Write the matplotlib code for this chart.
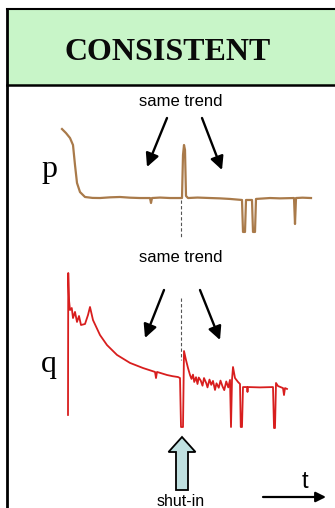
import matplotlib
matplotlib.use("Agg")
from matplotlib import pyplot as plt
from matplotlib.patches import Rectangle, FancyArrow

# pressure record (time in days, pressure in arbitrary units)
t_p = [0.8, 2.4, 4.0, 5.2, 6.0, 6.8, 8.0, 10.0, 13.0, 16.0, 20.0, 24.0, 28.0, 32.0,
       36.0, 36.4, 36.8, 40.0, 44.0, 48.8, 49.2, 49.6, 50.0, 50.4, 51.2, 55.0,
       60.0, 64.0, 68.0, 72.8, 73.2, 74.0, 74.4, 76.8, 77.2, 78.0, 78.4, 84.0,
       88.0, 93.6, 94.0, 94.4, 97.0, 100.4]
p = [96.5, 93.0, 88.7, 82.6, 65.2, 49.6, 41.7, 37.4, 36.6, 36.5, 37.1, 37.4, 36.8, 36.5,
     36.5, 32.2, 36.5, 36.9, 36.5, 36.5, 73.9, 82.6, 78.3, 38.3, 36.5, 36.9,
     36.5, 36.2, 35.7, 34.8, 7.0, 7.0, 34.8, 34.8, 7.0, 7.0, 35.7, 36.5,
     36.2, 36.5, 13.9, 36.5, 36.8, 36.5]

# rate record
t_q = [3.2, 3.3, 3.6, 4.0, 4.7, 5.2, 6.0, 6.8, 7.6, 8.4, 10.0, 11.2, 12.0, 13.2,
       16.0, 18.8, 22.8, 28.0, 33.2, 38.0, 38.4, 38.8, 42.8, 45.0, 47.2, 48.0,
       48.4, 49.2, 49.6, 50.4, 51.2, 52.0, 52.6, 53.2, 53.7, 54.4, 55.0, 55.5,
       56.3, 57.0, 57.6, 58.5, 59.0, 59.8, 60.5, 61.2, 62.0, 62.6, 63.5, 64.2,
       65.0, 65.7, 66.5, 67.3, 68.0, 68.4, 68.8, 69.2, 70.0, 71.2, 72.0, 72.3,
       72.8, 73.2, 74.8, 75.0, 75.2, 80.0, 85.2, 85.6, 86.0, 86.4, 87.2, 89.2,
       89.6, 90.0, 90.8]
q = [11.8, 95.3, 79.4, 73.5, 74.7, 68.8, 72.4, 66.5, 70.0, 64.7, 65.3, 70.6, 75.3, 67.6,
     58.8, 52.9, 47.1, 42.4, 39.4, 37.1, 33.5, 37.1, 35.3, 34.6, 34.1, 33.5,
     4.7, 4.7, 49.4, 44.1, 39.4, 35.3, 33.0, 35.5, 31.2, 34.0, 30.0, 33.8,
     32.0, 29.0, 33.5, 30.5, 28.0, 32.6, 29.5, 31.8, 26.5, 30.4, 27.8, 32.0,
     28.6, 26.4, 31.5, 28.0, 32.4, 4.7, 32.4, 40.0, 33.5, 31.2, 30.0, 4.7,
     4.7, 28.2, 28.2, 25.3, 28.2, 28.0, 28.2, 4.1, 4.1, 30.6, 28.8, 27.6,
     23.5, 27.6, 27.1]

shutin_t = 48.3
p_color = "#a97a4a"
q_color = "#d81e1e"

fig = plt.figure(figsize=(3.35, 5.08), dpi=100)

# overlay in pixel units for frame, labels and arrows
ax0 = fig.add_axes([0, 0, 1, 1])
ax0.set_xlim(0, 335)
ax0.set_ylim(508, 0)
ax0.axis("off")

ax0.add_patch(Rectangle((7, 9), 340, 76, facecolor="#c8f5c8", edgecolor="none"))
ax0.plot([7, 340], [9, 9], color="black", lw=1.5)
ax0.plot([7, 340], [85, 85], color="black", lw=1.8)
ax0.plot([7, 7], [9, 510], color="black", lw=2)
ax0.text(168, 53, "CONSISTENT", fontsize=23, fontweight="bold", family="Liberation Serif",
         ha="center", va="center", color="#0a0a0a")

ax0.text(181, 102, "same trend", fontsize=12, family="Liberation Sans", ha="center", va="center")
ax0.text(181, 258, "same trend", fontsize=12, family="Liberation Sans", ha="center", va="center")
ax0.text(49, 177, "p", fontsize=23, family="Liberation Serif", ha="center", va="baseline")
ax0.text(49, 372, "q", fontsize=23, family="Liberation Serif", ha="center", va="baseline")

arrows = [((167, 118), (147, 167)), ((202, 118), (222, 170)),
          ((164, 290), (145, 338)), ((200, 290), (220, 340))]
for start, end in arrows:
    ax0.annotate("", xy=end, xytext=start,
                 arrowprops=dict(arrowstyle="-|>", lw=1.7, color="black",
                                 mutation_scale=20, shrinkA=0, shrinkB=0))

# shut-in block arrow
ax0.add_patch(FancyArrow(182, 490, 0, -53, width=12, head_width=27, head_length=15,
                         length_includes_head=True, facecolor="#bfe0e0",
                         edgecolor="black", lw=1.3))
ax0.text(181, 501, "shut-in", fontsize=11.5, family="Liberation Sans", ha="center", va="center")

# time arrow
ax0.annotate("", xy=(326, 497), xytext=(263, 497),
             arrowprops=dict(arrowstyle="-|>", lw=1.6, color="black",
                             mutation_scale=15, shrinkA=0, shrinkB=0))
ax0.text(305, 482, "t", fontsize=17, family="Liberation Sans", ha="center", va="center")

# pressure panel
axp = fig.add_axes([60 / 335, (508 - 240) / 508, 255 / 335, 115 / 508])
axp.plot(t_p, p, color=p_color, lw=1.6)
axp.plot([shutin_t, shutin_t], [34.8, 2.6], color="#555555", lw=0.8, ls=(0, (3, 2)))
axp.set_xlim(0, 102)
axp.set_ylim(0, 100)
axp.axis("off")

# rate panel
axq = fig.add_axes([60 / 335, (508 - 435) / 508, 255 / 335, 170 / 508])
axq.plot(t_q, q, color=q_color, lw=1.3)
axq.plot([shutin_t, shutin_t], [80.6, 44.1], color="#555555", lw=0.8, ls=(0, (3, 2)))
axq.set_xlim(0, 102)
axq.set_ylim(0, 100)
axq.axis("off")

fig.savefig("out.png", dpi=100)
